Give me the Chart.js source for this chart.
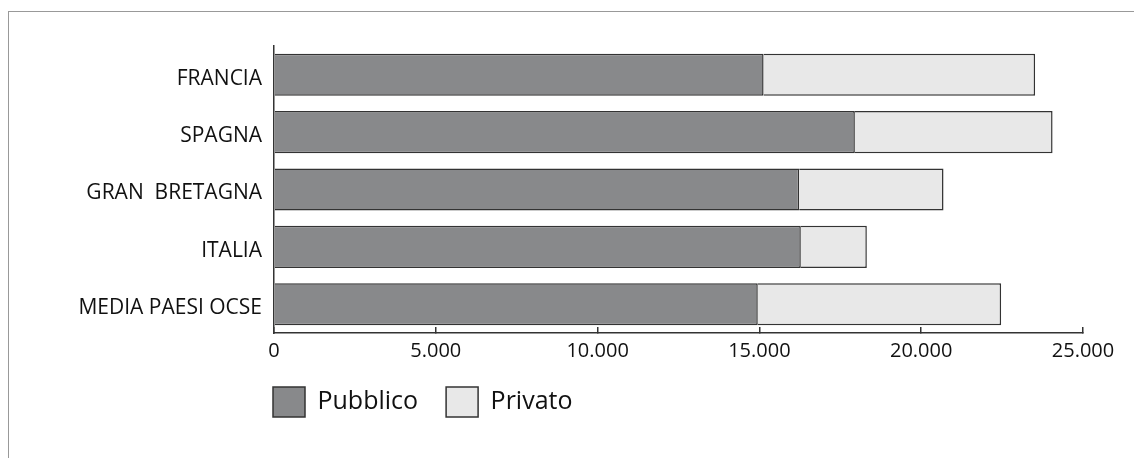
<!DOCTYPE html>
<html>
<head>
<meta charset="utf-8">
<script src="https://cdn.jsdelivr.net/npm/chart.js@4.4.1/dist/chart.umd.min.js"></script>
<style>
  html, body { margin: 0; padding: 0; background: #ffffff; }
  #wrap { position: relative; width: 1134px; height: 458px; overflow: hidden; }
  #frame { position: absolute; left: 8px; top: 11px; width: 1200px; height: 500px;
           border-top: 1px solid #999999; border-left: 1px solid #999999; }
  #c { position: absolute; left: 0; top: 0; }
</style>
</head>
<body>
<div id="wrap">
  <div id="frame"></div>
  <canvas id="c" width="1134" height="458"></canvas>
</div>
<script>
const categories = ['FRANCIA', 'SPAGNA', 'GRAN  BRETAGNA', 'ITALIA', 'MEDIA PAESI OCSE'];
const pubblico = [15130, 17950, 16230, 16280, 14950];
const privato  = [8390, 6110, 4460, 2040, 7520];
const seriesNames = ['Pubblico', 'Privato'];
const xTickLabels = ['0', '5.000', '10.000', '15.000', '20.000', '25.000'];

const legendShift = {
  id: 'legendShift',
  afterLayout(chart) {
    const lg = chart.legend;
    if (lg) {
      const pad = lg.options.labels.padding;
      lg.left = chart.chartArea.left - pad - 1;
    }
  }
};

new Chart(document.getElementById('c'), {
  type: 'bar',
  data: {
    labels: categories,
    datasets: [
      { label: seriesNames[0], data: pubblico, backgroundColor: '#88898b',
        borderColor: '#333333', borderWidth: 1.5 },
      { label: seriesNames[1], data: privato, backgroundColor: '#e8e8e8',
        borderColor: '#333333', borderWidth: 1.5 }
    ]
  },
  options: {
    indexAxis: 'y',
    responsive: false,
    animation: false,
    layout: { padding: { left: 0, right: 51, top: 46, bottom: 31 } },
    datasets: { bar: { categoryPercentage: 1, barPercentage: 0.734 } },
    scales: {
      x: {
        stacked: true,
        min: 0, max: 25000,
        ticks: {
          stepSize: 5000,
          padding: 12,
          color: '#111111',
          font: { family: 'Open Sans', size: 20 },
          callback: (v, i) => xTickLabels[i]
        },
        grid: { drawOnChartArea: false, drawTicks: true, tickLength: -6,
                color: '#333333', lineWidth: 1.5 },
        border: { display: true, color: '#333333', width: 1.5 },
        afterFit: (s) => { s.height = 26; }
      },
      y: {
        stacked: true,
        ticks: {
          padding: 12,
          labelOffset: 4,
          color: '#111111',
          font: { family: 'Open Sans', size: 21 }
        },
        grid: { drawOnChartArea: false, drawTicks: false },
        border: { display: true, color: '#333333', width: 1.5 },
        afterFit: (s) => { s.width = 274; }
      }
    },
    plugins: {
      tooltip: { enabled: false },
      legend: {
        position: 'bottom',
        align: 'start',
        fullSize: false,
        labels: {
          boxWidth: 32,
          boxHeight: 30,
          padding: 28,
          color: '#111111',
          font: { family: 'Open Sans', size: 25 }
        }
      }
    }
  },
  plugins: [legendShift]
});
</script>
</body>
</html>
